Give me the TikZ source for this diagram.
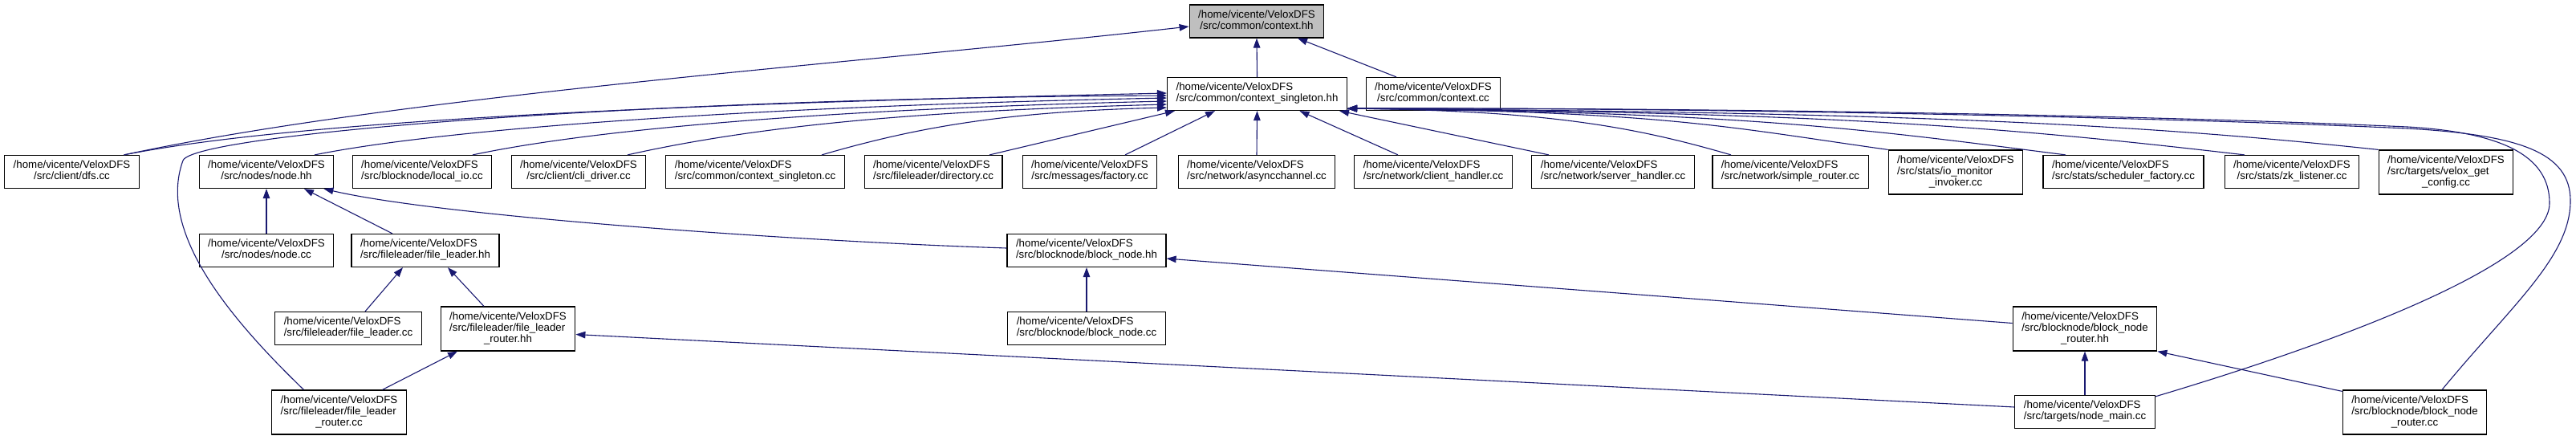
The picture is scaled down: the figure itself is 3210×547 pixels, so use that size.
\documentclass[tikz,border=0pt]{standalone}
\usepackage{fontspec}
\setmainfont{Liberation Sans}
\usetikzlibrary{arrows.meta, calc}
\definecolor{inclline}{RGB}{25,25,112}
\definecolor{curfill}{RGB}{191,191,191}
% file label: first lines left, last line centred
\newcommand{\vpath}[2]{\begin{tabular}{@{}l@{}}/home/vicente/VeloxDFS\\#1\multicolumn{1}{@{}c@{}}{#2}\end{tabular}}

\begin{document}
\begin{tikzpicture}[
    x=1pt, y=-1pt,
    filebox/.style = {
      draw=black, fill=white, line width=1.2pt,
      inner xsep=11pt, inner ysep=6.5pt,
      font=\fontsize{13.3}{14}\selectfont
    },
    curbox/.style = {filebox, fill=curfill},
    incl/.style = {-{Triangle[length=12pt,width=8.5pt]}, line width=1.1pt, inclline},
  ]
    \useasboundingbox (0,0) rectangle (3210,547);

    % Row 0 and 1: the header and its direct includers
    \node[curbox]  (ctx)   at (1566,26.5) {\vpath{}{/src/common/context.hh}};
    \node[filebox] (ctxs)  at (1566.5,117) {\vpath{}{/src/common/context\_singleton.hh}};
    \node[filebox] (ctxcc) at (1786,117)  {\vpath{}{/src/common/context.cc}};

    % Row 2: files including context_singleton.hh
    \node[filebox] (dfs)       at (89.5,214) {\vpath{}{/src/client/dfs.cc}};
    \node[filebox] (nodehh)    at (332,214)  {\vpath{}{/src/nodes/node.hh}};
    \node[filebox] (localio)   at (526,214)  {\vpath{}{/src/blocknode/local\_io.cc}};
    \node[filebox] (clidriver) at (721,214)  {\vpath{}{/src/client/cli\_driver.cc}};
    \node[filebox] (ctxscc)    at (941,214)  {\vpath{}{/src/common/context\_singleton.cc}};
    \node[filebox] (directory) at (1163,214) {\vpath{}{/src/fileleader/directory.cc}};
    \node[filebox] (factory)   at (1358,214) {\vpath{}{/src/messages/factory.cc}};
    \node[filebox] (async)     at (1566,214) {\vpath{}{/src/network/asyncchannel.cc}};
    \node[filebox] (clienth)   at (1786,214) {\vpath{}{/src/network/client\_handler.cc}};
    \node[filebox] (serverh)   at (2010,214) {\vpath{}{/src/network/server\_handler.cc}};
    \node[filebox] (simpler)   at (2231,214) {\vpath{}{/src/network/simple\_router.cc}};
    \node[filebox] (iomon)     at (2437,214.5) {\vpath{/src/stats/io\_monitor\\}{\_invoker.cc}};
    \node[filebox] (sched)     at (2646,214) {\vpath{}{/src/stats/scheduler\_factory.cc}};
    \node[filebox] (zk)        at (2856,214) {\vpath{}{/src/stats/zk\_listener.cc}};
    \node[filebox] (velox)     at (3048,214.5) {\vpath{/src/targets/velox\_get\\}{\_config.cc}};

    % Row 3
    \node[filebox] (nodecc) at (332,312)  {\vpath{}{/src/nodes/node.cc}};
    \node[filebox] (flhh)   at (530,312)  {\vpath{}{/src/fileleader/file\_leader.hh}};
    \node[filebox] (bnhh)   at (1354,312) {\vpath{}{/src/blocknode/block\_node.hh}};

    % Row 4
    \node[filebox] (flcc)  at (434,409)    {\vpath{}{/src/fileleader/file\_leader.cc}};
    \node[filebox] (flrhh) at (633,409.5)  {\vpath{/src/fileleader/file\_leader\\}{\_router.hh}};
    \node[filebox] (bncc)  at (1354,409)   {\vpath{}{/src/blocknode/block\_node.cc}};
    \node[filebox] (bnrhh) at (2598,409.5) {\vpath{/src/blocknode/block\_node\\}{\_router.hh}};

    % Row 5
    \node[filebox] (flrcc)    at (422.5,513.5) {\vpath{/src/fileleader/file\_leader\\}{\_router.cc}};
    \node[filebox] (nodemain) at (2598,513)    {\vpath{}{/src/targets/node\_main.cc}};
    \node[filebox] (bnrcc)    at (3009,513.5)  {\vpath{/src/blocknode/block\_node\\}{\_router.cc}};

    % Arrows into context.hh
    \draw[incl] (ctxs.north) -- (ctx.south);
    \draw[incl] ([xshift=-46pt]ctxcc.north) -- ([xshift=51pt]ctx.south);
    \draw[incl] ([xshift=65pt]dfs.north) .. controls +(350,-75) and +(-400,45) .. ([yshift=-6.5pt]ctx.west);

    % Arrows into context_singleton.hh, from the left
    \draw[incl] ([xshift=65pt]dfs.north) .. controls +(250,-50) and +(-450,10) .. ([yshift=1pt]ctxs.west);
    \draw[incl] ([xshift=-44pt]flrcc.north) .. controls (290,400) and (195,290) .. (228,200)
                .. controls (240,167) and (800,122) .. ([yshift=-2pt]ctxs.west);
    \draw[incl] ([xshift=60pt]nodehh.north) .. controls +(200,-40) and +(-400,8) .. ([yshift=-5pt]ctxs.west);
    \draw[incl] ([xshift=63pt]localio.north) .. controls +(180,-38) and +(-350,8) .. ([yshift=-9pt]ctxs.west);
    \draw[incl] ([xshift=61pt]clidriver.north) .. controls +(170,-38) and +(-300,8) .. ([yshift=-13pt]ctxs.west);
    \draw[incl] ([xshift=83pt]ctxscc.north) .. controls +(120,-35) and +(-200,5) .. ([yshift=-17pt]ctxs.west);

    % Arrows into context_singleton.hh, from below
    \draw[incl] ([xshift=70pt]directory.north) -- ([xshift=10pt]ctxs.south west);
    \draw[incl] ([xshift=44pt]factory.north) -- ([xshift=60pt]ctxs.south west);
    \draw[incl] (async.north) -- (ctxs.south);
    \draw[incl] ([xshift=-44pt]clienth.north) -- ([xshift=53pt]ctxs.south);
    \draw[incl] ([xshift=-80pt]serverh.north) -- ([xshift=-10pt]ctxs.south east);

    % Arrows into context_singleton.hh, from the right
    \draw[incl] ([xshift=-74pt]simpler.north) .. controls +(-120,-35) and +(250,3) .. ([yshift=3pt]ctxs.south east);
    \draw[incl] (iomon.north west) .. controls +(-200,-28) and +(400,4) .. ([yshift=3pt]ctxs.south east);
    \draw[incl] ([xshift=-72pt]sched.north) .. controls +(-250,-32) and +(500,5) .. ([yshift=3pt]ctxs.south east);
    \draw[incl] ([xshift=-59pt]zk.north) .. controls +(-300,-35) and +(600,5) .. ([yshift=3pt]ctxs.south east);
    \draw[incl] (velox.north west) .. controls +(-300,-32) and +(700,5) .. ([yshift=3pt]ctxs.south east);
    \draw[incl] ([yshift=-2pt]nodemain.north east) .. controls (2900,430) and (3177,330) .. (3177,253)
                .. controls (3177,195) and (3120,165) .. (3000,158)
                .. controls (2600,140) and (2000,134) .. ([yshift=3pt]ctxs.south east);
    \draw[incl] ([xshift=34pt]bnrcc.north) .. controls (3130,380) and (3203,320) .. (3203,250)
                .. controls (3203,190) and (3140,168) .. (3000,160)
                .. controls (2600,142) and (2000,134) .. ([yshift=3pt]ctxs.south east);

    % Arrows into node.hh and file_leader.hh
    \draw[incl] (nodecc.north) -- (nodehh.south);
    \draw[incl] ([xshift=-41pt]flhh.north) -- ([xshift=47pt]nodehh.south);
    \draw[incl] ([yshift=3pt]bnhh.west) .. controls +(-250,-8) and +(150,35) .. ([xshift=-13pt]nodehh.south east);
    \draw[incl] ([xshift=21pt]flcc.north) -- ([xshift=-28pt]flhh.south);
    \draw[incl] ([xshift=-30pt]flrhh.north) -- ([xshift=28pt]flhh.south);

    % Arrows into block_node.hh and the routers
    \draw[incl] (bncc.north) -- (bnhh.south);
    \draw[incl] ([yshift=7pt]bnrhh.west) -- ([yshift=-10pt]bnhh.east);
    \draw[incl] ([xshift=54pt]flrcc.north) -- ([xshift=-63pt]flrhh.south);
    \draw[incl] ([yshift=6pt]nodemain.west) -- ([yshift=-7pt]flrhh.east);
    \draw[incl] (nodemain.north) -- (bnrhh.south);
    \draw[incl] ([yshift=-2pt]bnrcc.north west) -- (bnrhh.south east);
  \end{tikzpicture}
\end{document}
